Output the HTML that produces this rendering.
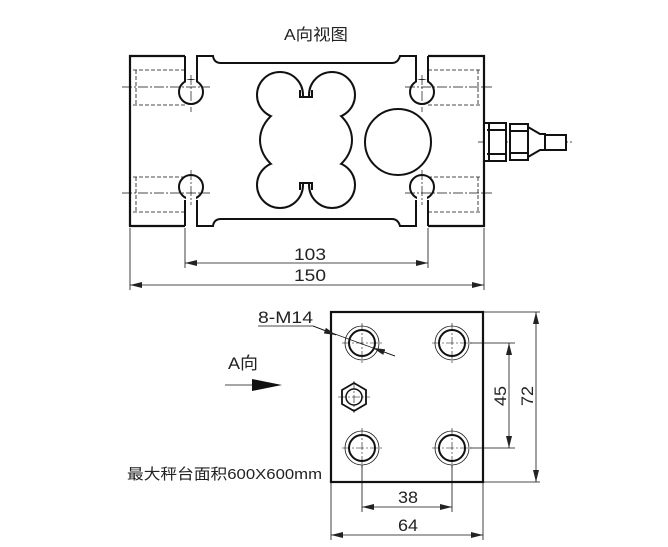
<!DOCTYPE html>
<html><head><meta charset="utf-8"><style>html,body{margin:0;padding:0;background:#fff}svg{display:block}text{font-family:"Liberation Sans","Noto Sans CJK SC",sans-serif;fill:#222}</style></head><body>
<svg width="668" height="547" viewBox="0 0 668 547" xmlns="http://www.w3.org/2000/svg">
<defs>
<marker id="a" viewBox="0 0 12 6" refX="12" refY="3" markerWidth="12" markerHeight="6" orient="auto-start-reverse" markerUnits="userSpaceOnUse"><path d="M0,0L12,3L0,6z" fill="#222"/></marker>
</defs>
<text x="284" y="40" font-size="16" textLength="64" lengthAdjust="spacingAndGlyphs">A向视图</text>
<g stroke="#111" fill="none">
<path d="M185,56H130V226H185" stroke-width="2.2"/>
<path d="M185,56V82M185,200V226" stroke-width="2"/>
<path d="M428,56H484V226H428" stroke-width="2.2"/>
<path d="M428,56V82M428,200V226" stroke-width="2"/>
<path d="M197,82V56H213Q214,63 221,63H392Q398,63 400,56H416V82" stroke-width="2"/>
<path d="M197,200V226H213Q214,219 221,219H392Q398,219 400,226H416V200" stroke-width="2"/>
<g stroke-width="2">
<circle cx="191" cy="92" r="12"/><circle cx="191" cy="187" r="12"/>
<circle cx="422" cy="92" r="12"/><circle cx="422" cy="187" r="12"/>
</g>
<rect x="186" y="80" width="10" height="4" fill="#fff" stroke="none"/>
<rect x="186" y="196" width="10" height="5" fill="#fff" stroke="none"/>
<rect x="417" y="80" width="10" height="4" fill="#fff" stroke="none"/>
<rect x="417" y="196" width="10" height="5" fill="#fff" stroke="none"/>
<g stroke-width="0.8" stroke-dasharray="4,2">
<path d="M133,70H185M133,105H185M133,177H185M133,212H185"/>
<path d="M428,70H481M428,105H481M428,177H481M428,212H481"/>
<path d="M136,70V105M136,177V212M478,70V105M478,177V212"/>
</g>
<g stroke-width="0.7" stroke-dasharray="10,2,2,2">
<path d="M122,87H210M122,193H210M405,87H492M405,193H492"/>
<path d="M191,75V112M191,170V205M422,75V112M422,170V205"/>
<path d="M478,142H572"/>
</g>
<g stroke-width="4">
<circle cx="280" cy="95" r="22"/><circle cx="332" cy="95" r="22"/>
<circle cx="280" cy="185" r="22"/><circle cx="332" cy="185" r="22"/>
<ellipse cx="306" cy="140" rx="45" ry="36"/>
</g>
<g fill="#fff" stroke="none">
<circle cx="280" cy="95" r="22"/><circle cx="332" cy="95" r="22"/>
<circle cx="280" cy="185" r="22"/><circle cx="332" cy="185" r="22"/>
<ellipse cx="306" cy="140" rx="45" ry="36"/>
<rect x="300" y="97" width="12" height="86"/>
</g>
<path d="M300,90V97H312V90M300,190V183H312V190" stroke-width="2"/>
<circle cx="398" cy="142" r="33" stroke-width="2"/>
<g stroke-width="2" fill="#fff">
<rect x="484" y="123" width="22" height="38"/>
<path d="M487,130H506M487,154H506M489,123V161"/>
<rect x="510" y="124" width="18" height="36"/>
<path d="M510,131H528M510,153H528"/>
<path d="M528,127L540,134H545V150H540L528,157Z"/>
<rect x="545" y="135" width="21" height="15"/>
</g>
<g stroke-width="0.8">
<path d="M185,228V268M428,228V268M130,228V290M484,228V290"/>
<path d="M185,263H428" marker-start="url(#a)" marker-end="url(#a)"/>
<path d="M130,285H484" marker-start="url(#a)" marker-end="url(#a)"/>
</g>
</g>
<text x="294" y="260" font-size="17" textLength="32" lengthAdjust="spacingAndGlyphs">103</text>
<text x="294" y="281" font-size="17" textLength="32" lengthAdjust="spacingAndGlyphs">150</text>
<g stroke="#111" fill="none">
<rect x="331" y="312" width="152" height="170" stroke-width="2.2"/>
<g stroke-width="2"><circle cx="362" cy="343" r="13"/><circle cx="452" cy="343" r="13"/><circle cx="362" cy="448" r="13"/><circle cx="452" cy="448" r="13"/></g>
<g stroke-width="0.8"><circle cx="362" cy="343" r="17"/><circle cx="452" cy="343" r="17"/><circle cx="362" cy="448" r="17"/><circle cx="452" cy="448" r="17"/></g>
<g stroke-width="0.6" stroke-dasharray="8,2,2,2"><path d="M342,343H382M432,343H472M342,448H382M432,448H472M362,323V363M452,323V363M362,428V468M452,428V468M338,397H370M354,381V413"/></g>
<polygon points="342,390 354,383 366,390 366,404 354,411 342,404" stroke-width="1.8"/>
<circle cx="354" cy="397" r="8" stroke-width="1.5"/>
<g stroke-width="0.8">
<path d="M258,326H313L395,356"/>
<path d="M313,326L336,335" marker-end="url(#a)"/>
<path d="M395,356L373,348" marker-end="url(#a)"/>
<path d="M470,343H515M470,448H515M483,312H540M483,482H540"/>
<path d="M509,343V448" marker-start="url(#a)" marker-end="url(#a)"/>
<path d="M536,312V482" marker-start="url(#a)" marker-end="url(#a)"/>
<path d="M362,465V512M452,465V512M331,482V540M483,482V540"/>
<path d="M362,507H452" marker-start="url(#a)" marker-end="url(#a)"/>
<path d="M331,535H483" marker-start="url(#a)" marker-end="url(#a)"/>
<path d="M225,385H255"/>
</g>
<polygon points="252,379 282,385 252,391" fill="#111" stroke="none"/>
</g>
<text x="258" y="323" font-size="17" textLength="55" lengthAdjust="spacingAndGlyphs">8-M14</text>
<text x="228" y="369" font-size="17" textLength="30" lengthAdjust="spacingAndGlyphs">A向</text>
<text x="398" y="503" font-size="17" textLength="20" lengthAdjust="spacingAndGlyphs">38</text>
<text x="398" y="531" font-size="17" textLength="20" lengthAdjust="spacingAndGlyphs">64</text>
<text transform="translate(506,406) rotate(-90)" font-size="17" textLength="20" lengthAdjust="spacingAndGlyphs">45</text>
<text transform="translate(533,406) rotate(-90)" font-size="17" textLength="20" lengthAdjust="spacingAndGlyphs">72</text>
<text x="127" y="479" font-size="15" textLength="195" lengthAdjust="spacingAndGlyphs">最大秤台面积600X600mm</text>
</svg>
</body></html>
